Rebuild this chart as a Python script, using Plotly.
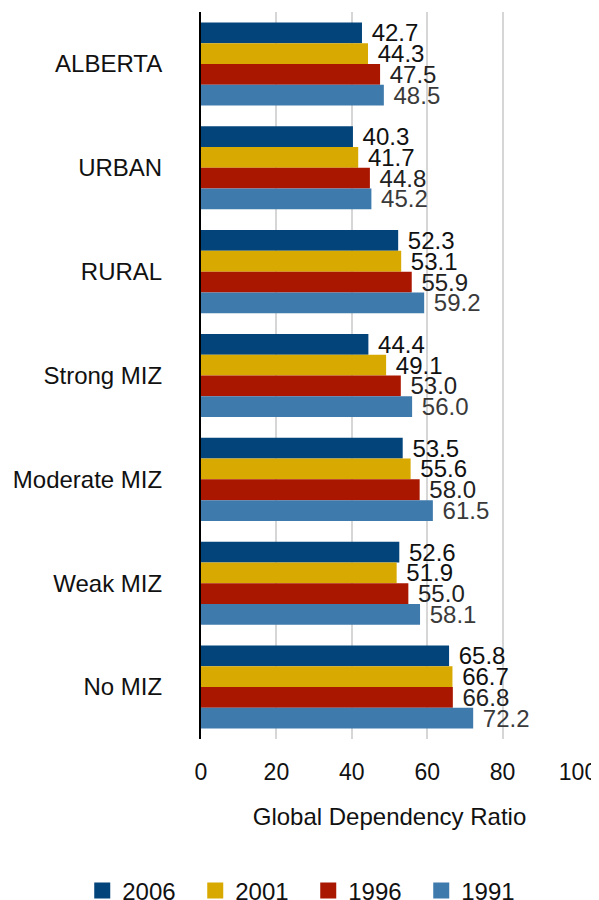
import plotly.graph_objects as go

categories = ["ALBERTA", "URBAN", "RURAL", "Strong MIZ", "Moderate MIZ", "Weak MIZ", "No MIZ"]
series_names = ["2006", "2001", "1996", "1991"]
v2006 = [42.7, 40.3, 52.3, 44.4, 53.5, 52.6, 65.8]
v2001 = [44.3, 41.7, 53.1, 49.1, 55.6, 51.9, 66.7]
v1996 = [47.5, 44.8, 55.9, 53.0, 58.0, 55.0, 66.8]
v1991 = [48.5, 45.2, 59.2, 56.0, 61.5, 58.1, 72.2]
values = [v2006, v2001, v1996, v1991]
colors = ["#03447a", "#d8a900", "#aa1700", "#3f7aad"]
text_colors = ["#111111", "#111111", "#222222", "#3a3a3a"]
x_ticks = [0, 20, 40, 60, 80, 100]

FONT = "Liberation Sans"

fig = go.Figure()
for name, vals, col, tcol in zip(series_names, values, colors, text_colors):
    fig.add_trace(go.Bar(
        y=categories, x=vals, name=name, orientation="h",
        marker=dict(color=col, line=dict(width=0)),
        text=["\u00a0" + f"{v:.1f}" for v in vals], textposition="outside",
        textfont=dict(size=24, color=tcol, family=FONT),
        constraintext="none", cliponaxis=False, showlegend=False,
    ))
# legend entries with larger square symbols
for name, col in zip(series_names, colors):
    fig.add_trace(go.Scatter(
        x=[None], y=[None], mode="markers", name=name,
        marker=dict(symbol="square", size=18, color=col),
        showlegend=True, hoverinfo="skip",
    ))

fig.update_layout(
    barmode="group", bargap=0.2, bargroupgap=0,
    width=599, height=908,
    margin=dict(l=193, r=29, t=4, b=176),
    plot_bgcolor="white", paper_bgcolor="white",
    font=dict(family=FONT, size=24, color="#111111"),
    xaxis=dict(range=[0, 100], tickvals=x_ticks, showgrid=True, gridcolor="#d6d6d6", gridwidth=2,
               zeroline=False, showline=False, ticks="", ticklabelstandoff=17,
               tickfont=dict(size=23),
               title=dict(text="Global Dependency Ratio", font=dict(size=24), standoff=24)),
    yaxis=dict(autorange="reversed", showline=True, linecolor="black", linewidth=2,
               ticks="", ticklabelstandoff=32, showgrid=False, tickfont=dict(size=24)),
    legend=dict(orientation="h", x=-0.315, xanchor="left",
                y=-0.2074, yanchor="middle",
                font=dict(size=24), itemwidth=30, traceorder="normal",
                entrywidth=68, entrywidthmode="pixels"),
    showlegend=True,
)

fig.write_html("out.html")
